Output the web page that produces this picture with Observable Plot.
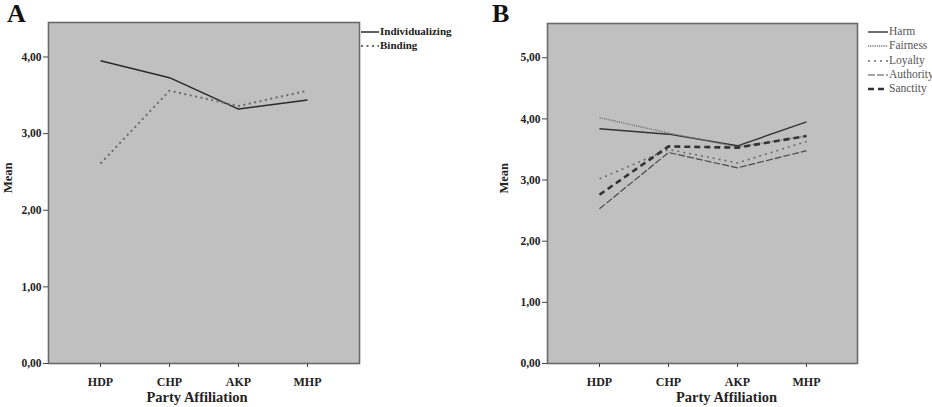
<!DOCTYPE html>
<html><head><meta charset="utf-8">
<script src="https://cdn.jsdelivr.net/npm/d3@7"></script>
<script src="https://cdn.jsdelivr.net/npm/@observablehq/plot@0.6"></script>
<style>
body{margin:0;background:#fff;width:932px;height:407px;overflow:hidden;position:relative;font-family:"Liberation Serif",serif;}
.panel{position:absolute;top:0;}
.letter{position:absolute;font-weight:bold;font-size:26px;line-height:1;top:1px;color:#111;}
.leg{position:absolute;font-size:11px;line-height:1;white-space:nowrap;}
.leg div{position:absolute;left:0;height:12px;}
.leg svg{position:absolute;left:0;top:0;}
.leg span{position:absolute;top:0;}
</style></head><body>
<div class="letter" style="left:7px">A</div>
<div class="letter" style="left:492px">B</div>
<div id="A" class="panel" style="left:0"></div>
<div id="B" class="panel" style="left:466px"></div>
<script>
const parties = ["HDP", "CHP", "AKP", "MHP"];
// Panel A
const individualizing = [3.95, 3.73, 3.32, 3.44];
const binding = [2.61, 3.56, 3.36, 3.56];
// Panel B
const harm = [3.84, 3.75, 3.56, 3.95];
const fairness = [4.02, 3.77, 3.54, 3.72];
const loyalty = [3.02, 3.50, 3.28, 3.63];
const authority = [2.53, 3.45, 3.20, 3.48];
const sanctity = [2.76, 3.55, 3.53, 3.72];
const ticksA = [0, 1, 2, 3, 4];
const ticksB = [0, 1, 2, 3, 4, 5];

const seriesA = [
  {name: "Individualizing", values: individualizing, stroke: "#2a2a2a", width: 1.5, dash: null},
  {name: "Binding", values: binding, stroke: "#6a6a6a", width: 2, dash: "2,3.5"}
];
const seriesB = [
  {name: "Harm", values: harm, stroke: "#333", width: 1.4, dash: null},
  {name: "Fairness", values: fairness, stroke: "#777", width: 1.4, dash: "1.2,1"},
  {name: "Loyalty", values: loyalty, stroke: "#6a6a6a", width: 1.6, dash: "2,4"},
  {name: "Authority", values: authority, stroke: "#4a4a4a", width: 1.2, dash: "7,2"},
  {name: "Sanctity", values: sanctity, stroke: "#333", width: 2.6, dash: "6,4"}
];

const fmt = d => d.toFixed(2).replace(".", ",");

function panel(el, series, yMax, ticks, m, meanOffset, labelDx) {
  const marks = [Plot.frame({fill: "#c0c0c0"})];
  for (const s of series) {
    const data = parties.map((p, i) => ({party: p, value: s.values[i]}));
    marks.push(Plot.line(data, {x: "party", y: "value", stroke: s.stroke, strokeWidth: s.width,
      strokeDasharray: s.dash, strokeLinecap: "butt"}));
  }
  marks.push(
    Plot.frame({stroke: "#6a6a6a", strokeWidth: 1.6}),
    Plot.axisY({ticks, tickFormat: fmt, tickSize: 5, tickPadding: 2, label: null, stroke: "#444", fill: "#222", fontSize: 11.5}),
    Plot.axisX({tickSize: 4, tickPadding: 10, label: null, stroke: "#444", fill: "#222", fontSize: 12}),
    Plot.text(["Party Affiliation"], {frameAnchor: "bottom", dy: 38, dx: labelDx, fontSize: 14.5, fill: "#222", text: d => d}),
    Plot.text(["Mean"], {frameAnchor: "left", dx: -meanOffset, rotate: -90, fontSize: 12.5, fill: "#222", text: d => d})
  );
  const p = Plot.plot({
    width: 466, height: 407,
    marginLeft: m[0], marginRight: m[1], marginTop: m[2], marginBottom: m[3],
    style: {fontFamily: "Liberation Serif", fontSize: "11px", fontWeight: "bold", background: "transparent", overflow: "visible"},
    x: {type: "point", domain: parties, padding: 0.73},
    y: {domain: [0, yMax]},
    marks
  });
  document.getElementById(el).appendChild(p);
}

panel("A", seriesA, 4.45, ticksA, [48, 107, 22, 44], 41, -7);
panel("B", seriesB, 5.56, ticksB, [81, 75, 23, 44], 44, 24);

function legend(series, left, top, step, lineW, textStyle) {
  const box = document.createElement("div");
  box.className = "leg";
  box.style.left = left + "px";
  box.style.top = top + "px";
  series.forEach((s, i) => {
    const row = document.createElement("div");
    row.style.top = (i * step) + "px";
    row.innerHTML = `<svg width="${lineW}" height="12"><line x1="0" x2="${lineW}" y1="6" y2="6" stroke="${s.stroke}" stroke-width="${s.width}" ${s.dash ? `stroke-dasharray="${s.dash}"` : ""}/></svg><span style="left:${lineW + 1}px;${textStyle}">${s.name}</span>`;
    box.appendChild(row);
  });
  document.body.appendChild(box);
}
legend(seriesA, 361, 26, 13.5, 18, "font-weight:bold;color:#222;");
legend(seriesB, 868, 26, 14.3, 20, "font-weight:normal;color:#555;font-size:11.5px;");
</script>
</body></html>
